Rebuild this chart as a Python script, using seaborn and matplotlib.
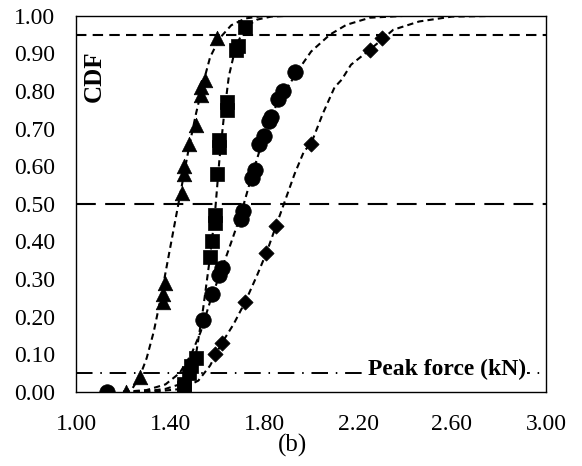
"""
CDF of peak force, panel (b)
"""
import numpy as np
import pandas as pd
import matplotlib
matplotlib.use('Agg')
import matplotlib.pyplot as plt
import seaborn as sns

sns.set_style('white')
plt.rcParams['font.family'] = ['Liberation Serif', 'DejaVu Serif']
plt.rcParams['text.color'] = 'black'
plt.rcParams['xtick.color'] = 'black'
plt.rcParams['ytick.color'] = 'black'

# measured points (peak force kN, CDF)
tri_x = [1.21, 1.27, 1.37, 1.37, 1.38, 1.45, 1.46, 1.46, 1.48, 1.51, 1.53, 1.53, 1.55, 1.60]
tri_y = [0.00, 0.04, 0.24, 0.26, 0.29, 0.53, 0.58, 0.60, 0.66, 0.71, 0.79, 0.81, 0.83, 0.94]

sq_x = [1.46, 1.46, 1.48, 1.49, 1.51, 1.57, 1.58, 1.59, 1.59, 1.60, 1.61, 1.61, 1.64, 1.64,
        1.68, 1.69, 1.72]
sq_y = [0.01, 0.02, 0.05, 0.07, 0.09, 0.36, 0.40, 0.45, 0.47, 0.58, 0.65, 0.67, 0.75, 0.77,
        0.91, 0.92, 0.97]

circ_x = [1.13, 1.54, 1.58, 1.61, 1.62, 1.70, 1.71, 1.75, 1.76, 1.78, 1.80, 1.82, 1.83,
          1.86, 1.88, 1.93]
circ_y = [0.00, 0.19, 0.26, 0.31, 0.33, 0.46, 0.48, 0.57, 0.59, 0.66, 0.68, 0.72, 0.73,
          0.78, 0.80, 0.85]

dia_x = [1.59, 1.62, 1.72, 1.81, 1.85, 2.00, 2.25, 2.30]
dia_y = [0.10, 0.13, 0.24, 0.37, 0.44, 0.66, 0.91, 0.94]

# fitted curves
tri_cx = [1.20, 1.24, 1.27, 1.30, 1.33, 1.36, 1.39, 1.42, 1.45, 1.48, 1.51, 1.54, 1.57,
          1.61, 1.66, 1.72, 1.80]
tri_cy = [0.00, 0.01, 0.04, 0.09, 0.16, 0.25, 0.35, 0.45, 0.55, 0.65, 0.74, 0.82, 0.89,
          0.94, 0.975, 0.993, 1.00]

sq_cx = [1.20, 1.30, 1.38, 1.44, 1.48, 1.51, 1.54, 1.57, 1.59, 1.61, 1.63, 1.65, 1.68,
         1.72, 1.77, 1.83, 1.90]
sq_cy = [0.00, 0.002, 0.008, 0.02, 0.05, 0.10, 0.22, 0.36, 0.47, 0.62, 0.74, 0.84, 0.92,
         0.97, 0.99, 0.998, 1.00]

circ_cx = [1.20, 1.30, 1.38, 1.44, 1.49, 1.53, 1.57, 1.61, 1.65, 1.70, 1.75, 1.80, 1.85,
           1.90, 1.95, 2.00, 2.08, 2.15, 2.25, 2.40]
circ_cy = [0.00, 0.005, 0.02, 0.05, 0.10, 0.16, 0.24, 0.31, 0.38, 0.47, 0.58, 0.68, 0.76,
           0.81, 0.86, 0.905, 0.95, 0.976, 0.995, 1.00]

dia_cx = [1.20, 1.35, 1.45, 1.52, 1.57, 1.62, 1.67, 1.72, 1.77, 1.81, 1.85, 1.89, 1.93,
          1.97, 2.00, 2.05, 2.10, 2.13, 2.17, 2.25, 2.30, 2.35, 2.46, 2.60, 2.80]
dia_cy = [0.00, 0.002, 0.008, 0.03, 0.07, 0.13, 0.18, 0.24, 0.31, 0.37, 0.44, 0.51, 0.58,
          0.64, 0.66, 0.74, 0.81, 0.83, 0.87, 0.91, 0.936, 0.963, 0.985, 0.998, 1.00]

ref_levels = [0.95, 0.50, 0.05]

x_ticks = [1.00, 1.40, 1.80, 2.20, 2.60, 3.00]
y_ticks = [0.0, 0.1, 0.2, 0.3, 0.4, 0.5, 0.6, 0.7, 0.8, 0.9, 1.0]


fig = plt.figure(figsize=(5.82, 4.66), dpi=100)
ax = fig.add_axes([0.131, 0.159, 0.807, 0.807])

# reference levels
ax.axhline(ref_levels[0], color='black', lw=1.5, dashes=(5, 3), zorder=1)
ax.axhline(ref_levels[1], color='black', lw=1.5, dashes=(9.5, 4.5), zorder=1)
ax.axhline(ref_levels[2], color='black', lw=1.4, dashes=(8.5, 4, 0.8, 4), zorder=1)

curves = [(tri_cx, tri_cy), (sq_cx, sq_cy), (circ_cx, circ_cy), (dia_cx, dia_cy)]
for cx, cy in curves:
    df = pd.DataFrame({'x': cx, 'y': cy})
    sns.lineplot(data=df, x='x', y='y', ax=ax, sort=False, color='black',
                 lw=1.5, dashes=False, zorder=2).lines[-1].set_dashes((3, 2))

series = [(tri_x, tri_y, '^', 110), (sq_x, sq_y, 's', 105),
          (circ_x, circ_y, 'o', 125), (dia_x, dia_y, 'D', 60)]
for px, py, mk, sz in series:
    df = pd.DataFrame({'x': px, 'y': py})
    sns.scatterplot(data=df, x='x', y='y', ax=ax, marker=mk, s=sz,
                    color='black', edgecolor='black', linewidth=0.5, zorder=3)

ax.set_xlim(1.0, 3.0)
ax.set_ylim(0.0, 1.0)
ax.set_xticks(x_ticks)
ax.set_yticks(y_ticks)
ax.set_xticklabels(['%.2f' % v for v in x_ticks])
ax.set_yticklabels(['%.2f' % v for v in y_ticks])
ax.tick_params(axis='y', length=0, labelsize=17, pad=15)
ax.tick_params(axis='x', length=0, labelsize=17, pad=16)
ax.set_xlabel('')
ax.set_ylabel('')
for sp in ax.spines.values():
    sp.set_visible(True)
    sp.set_color('black')
    sp.set_linewidth(1.0)

ax.text(1.075, 0.84, 'CDF', rotation=90, fontsize=18, fontweight='bold',
        ha='center', va='center')
ax.text(2.915, 0.06, 'Peak force (kN)', fontsize=17, fontweight='bold',
        ha='right', va='center',
        bbox=dict(facecolor='white', edgecolor='none', pad=1))
fig.text(0.503, 0.045, '(b)', fontsize=18, ha='center', va='center')

fig.savefig('out.png', dpi=100)
